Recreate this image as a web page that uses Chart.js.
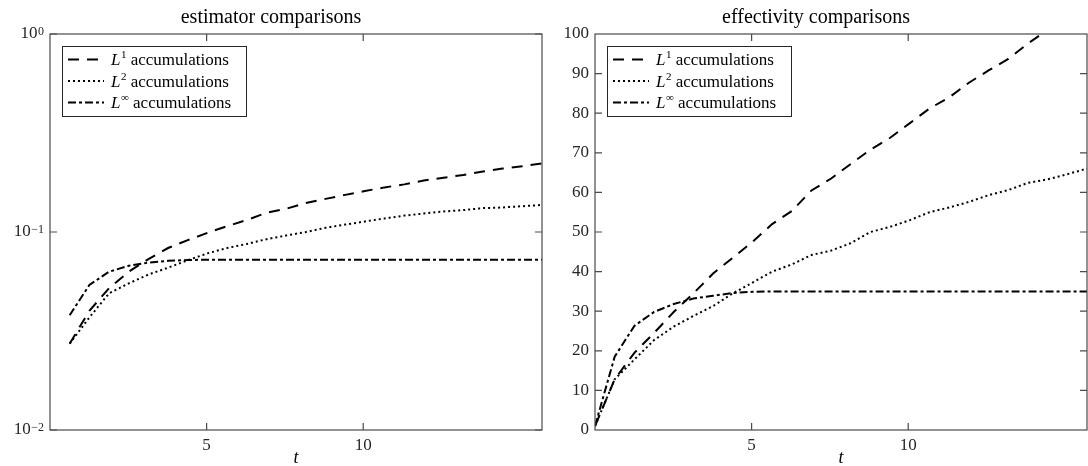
<!DOCTYPE html>
<html><head><meta charset="utf-8">
<script src="https://cdn.jsdelivr.net/npm/chart.js@4"></script>
<style>
html,body{margin:0;padding:0;background:#fff;}
body{width:1088px;height:466px;position:relative;overflow:hidden;}
#c1{position:absolute;left:0;top:0;}
#c2{position:absolute;left:545px;top:0;}
</style></head>
<body>
<canvas id="c1" width="545" height="466"></canvas>
<canvas id="c2" width="543" height="466"></canvas>
<script>
// ---- data ----
const tValues = [0, 0.628, 1.257, 1.885, 2.513, 3.142, 3.770, 4.398, 5.027, 5.655, 6.283, 6.912, 7.540, 8.168, 8.796, 9.425, 10.053, 10.681, 11.310, 11.938, 12.566, 13.195, 13.823, 14.451, 15.080, 15.708];

const estL1   = [null, 0.0273, 0.040, 0.052, 0.063, 0.073, 0.083, 0.091, 0.099, 0.107, 0.115, 0.125, 0.131, 0.140, 0.147, 0.154, 0.161, 0.168, 0.174, 0.182, 0.188, 0.194, 0.202, 0.209, 0.215, 0.222];
const estL2   = [null, 0.0273, 0.037, 0.049, 0.055, 0.061, 0.066, 0.072, 0.078, 0.083, 0.087, 0.092, 0.096, 0.100, 0.105, 0.109, 0.113, 0.117, 0.121, 0.124, 0.127, 0.129, 0.132, 0.133, 0.135, 0.137];
const estLinf = [null, 0.038, 0.054, 0.063, 0.0675, 0.070, 0.0715, 0.0722, 0.0725, 0.0725, 0.0725, 0.0725, 0.0725, 0.0725, 0.0725, 0.0725, 0.0725, 0.0725, 0.0725, 0.0725, 0.0725, 0.0725, 0.0725, 0.0725, 0.0725, 0.0725];

const effL1   = [1, 12.8, 19.5, 24.5, 29.8, 34.5, 39.5, 43.5, 47.5, 52, 55.3, 60.5, 63.5, 67.2, 70.8, 73.8, 77.5, 81.2, 84, 87.7, 90.8, 93.7, 97.6, 101, 104, 107];
const effL2   = [1, 12.8, 17.8, 22.7, 26.1, 28.8, 31.3, 34.5, 37.2, 40, 41.8, 44.2, 45.3, 47.2, 50, 51.3, 53, 55, 56.2, 57.6, 59.3, 60.6, 62.4, 63.3, 64.6, 66];
const effLinf = [1, 18.5, 26.3, 29.8, 31.8, 33.2, 33.9, 34.6, 34.9, 35, 35, 35, 35, 35, 35, 35, 35, 35, 35, 35, 35, 35, 35, 35, 35, 35];

const xTicks = [5, 10];
const estYTicks = [0.01, 0.1, 1];
const estYTickBase = '10';
const estYTickExp = ['\u22122', '\u22121', '0'];
const effYTicks = [0, 10, 20, 30, 40, 50, 60, 70, 80, 90, 100];

const seriesSup = ['1', '2', '\u221E'];
const seriesRest = ' accumulations';
const chartTitles = ['estimator comparisons', 'effectivity comparisons'];
const xLabel = 't';

// ---- styles ----
const FONT = "'Liberation Serif', 'Times New Roman', serif";
const dashes = [[11, 8], [2, 3], [8, 3, 3, 3]];
Chart.defaults.font.family = FONT;
Chart.defaults.color = '#262626';

function toPts(vals) { return tValues.map((t, i) => ({x: t, y: vals[i]})); }
function makeDatasets(series) {
  return series.map((s, i) => ({
    label: 'L' + seriesSup[i] + seriesRest,
    data: toPts(s),
    borderColor: '#000',
    backgroundColor: '#000',
    borderWidth: 2,
    borderDash: dashes[i],
    pointRadius: 0,
    tension: 0,
    fill: false,
    spanGaps: false
  }));
}

const matlabBox = {
  id: 'matlabBox',
  afterDatasetsDraw(chart, args, opts) {
    const {ctx, chartArea: ca, scales} = chart;
    ctx.save();
    // box
    ctx.strokeStyle = '#4a4a4a';
    ctx.lineWidth = 1.2;
    ctx.setLineDash([]);
    ctx.strokeRect(ca.left, ca.top, ca.right - ca.left, ca.bottom - ca.top);
    // inward ticks
    const tl = 7;
    ctx.beginPath();
    opts.xTicks.forEach(v => {
      const px = scales.x.getPixelForValue(v);
      ctx.moveTo(px, ca.bottom); ctx.lineTo(px, ca.bottom - tl);
      ctx.moveTo(px, ca.top); ctx.lineTo(px, ca.top + tl);
    });
    opts.yTicks.forEach(v => {
      const py = scales.y.getPixelForValue(v);
      ctx.moveTo(ca.left, py); ctx.lineTo(ca.left + tl, py);
      ctx.moveTo(ca.right, py); ctx.lineTo(ca.right - tl, py);
    });
    ctx.stroke();

    // custom power-of-ten labels
    if (opts.expLabels) {
      ctx.fillStyle = '#262626';
      opts.yTicks.forEach((v, i) => {
        const py = scales.y.getPixelForValue(v);
        const xEnd = ca.left - 6;
        ctx.font = '12px ' + FONT;
        const ew = ctx.measureText(opts.expLabels[i]).width;
        ctx.font = '17px ' + FONT;
        const bw = ctx.measureText(estYTickBase).width;
        ctx.textAlign = 'left';
        ctx.textBaseline = 'middle';
        ctx.fillText(estYTickBase, xEnd - ew - bw - 0.5, py);
        ctx.font = '12px ' + FONT;
        ctx.textBaseline = 'alphabetic';
        ctx.fillText(opts.expLabels[i], xEnd - ew, py + 0.5);
      });
    }

    // legend box (inside upper-left)
    const x0 = ca.left + 12, y0 = ca.top + 12, w = 184, h = 70;
    ctx.fillStyle = '#fff';
    ctx.fillRect(x0, y0, w, h);
    ctx.strokeStyle = '#262626';
    ctx.lineWidth = 1;
    ctx.strokeRect(x0 + 0.5, y0 + 0.5, w, h);
    chart.data.datasets.forEach((ds, i) => {
      const ry = y0 + 13.5 + i * 21.5;
      ctx.save();
      ctx.strokeStyle = ds.borderColor;
      ctx.lineWidth = ds.borderWidth;
      ctx.setLineDash(ds.borderDash);
      ctx.beginPath();
      ctx.moveTo(x0 + 6, ry);
      ctx.lineTo(x0 + 42, ry);
      ctx.stroke();
      ctx.restore();
      ctx.fillStyle = '#000';
      ctx.textAlign = 'left';
      ctx.textBaseline = 'alphabetic';
      let tx = x0 + 49;
      const base = ry + 5.5;
      ctx.font = 'italic 17px ' + FONT;
      ctx.fillText('L', tx, base);
      tx += ctx.measureText('L').width + 0.5;
      ctx.font = '11px ' + FONT;
      ctx.fillText(seriesSup[i], tx, base - 7);
      tx += ctx.measureText(seriesSup[i]).width;
      ctx.font = '17px ' + FONT;
      ctx.fillText(seriesRest, tx, base);
    });
    ctx.restore();
  }
};

function baseOptions(title, yScale, boxOpts, padRight) {
  return {
    responsive: false,
    animation: false,
    events: [],
    layout: {padding: {left: 0, right: padRight, top: 0, bottom: 0}},
    plugins: {
      legend: {display: false},
      tooltip: {enabled: false},
      title: {display: true, text: title, color: '#000',
              font: {size: 20, weight: 'normal', family: FONT, lineHeight: 1.2},
              padding: {top: 6, bottom: 4}},
      matlabBox: boxOpts
    },
    scales: {
      x: {
        type: 'linear', min: 0, max: tValues[tValues.length - 1],
        grid: {display: false, drawTicks: false},
        border: {display: false},
        ticks: {font: {size: 17}, color: '#262626', padding: 5, maxRotation: 0},
        afterBuildTicks: s => { s.ticks = xTicks.map(v => ({value: v})); },
        afterFit: s => { s.height = 36; },
        title: {display: true, text: xLabel, color: '#000',
                font: {size: 18, style: 'italic', family: FONT, lineHeight: 1.2},
                padding: {top: 0, bottom: -3}}
      },
      y: yScale
    }
  };
}

new Chart(document.getElementById('c1'), {
  type: 'line',
  data: {datasets: makeDatasets([estL1, estL2, estLinf])},
  options: baseOptions(chartTitles[0], {
    type: 'logarithmic', min: 0.01, max: 1,
    grid: {display: false, drawTicks: false},
    border: {display: false},
    ticks: {display: false},
    afterBuildTicks: s => { s.ticks = estYTicks.map(v => ({value: v})); },
    afterFit: s => { s.width = 50; }
  }, {xTicks: xTicks, yTicks: estYTicks, expLabels: estYTickExp}, 3),
  plugins: [matlabBox]
});

new Chart(document.getElementById('c2'), {
  type: 'line',
  data: {datasets: makeDatasets([effL1, effL2, effLinf])},
  options: baseOptions(chartTitles[1], {
    type: 'linear', min: 0, max: 100,
    grid: {display: false, drawTicks: false},
    border: {display: false},
    ticks: {font: {size: 17}, color: '#262626', padding: 6},
    afterBuildTicks: s => { s.ticks = effYTicks.map(v => ({value: v})); },
    afterFit: s => { s.width = 50; }
  }, {xTicks: xTicks, yTicks: effYTicks.slice(1, -1)}, 1),
  plugins: [matlabBox]
});
</script>
</body></html>
